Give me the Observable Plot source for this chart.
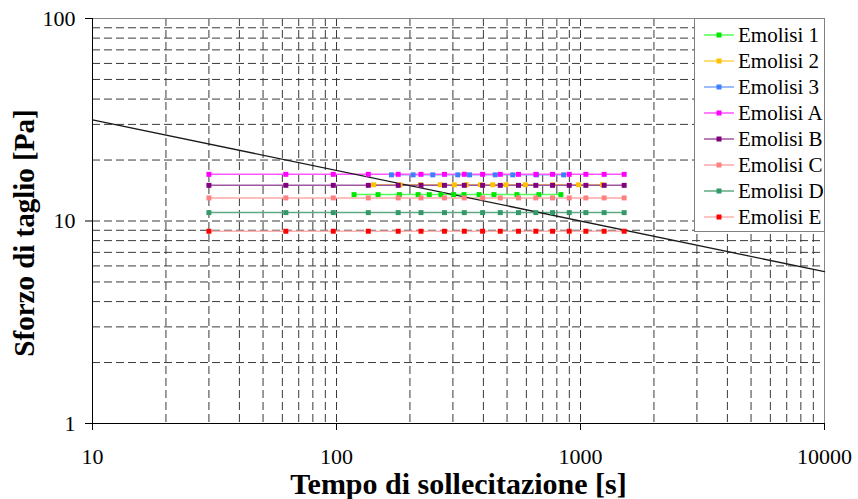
<!DOCTYPE html>
<html><head><meta charset="utf-8">
<script src="https://cdn.jsdelivr.net/npm/d3@7"></script>
<script src="https://cdn.jsdelivr.net/npm/@observablehq/plot@0.6"></script>
<style>body{margin:0;background:#fff} svg{display:block}</style>
</head><body><div id="chart"></div>
<script>
// ---- data ----
const seriesNames = ["Emolisi 1","Emolisi 2","Emolisi 3","Emolisi A","Emolisi B","Emolisi C","Emolisi D","Emolisi E"];
const markerColors = ["#00e600","#ffc000","#3f7fff","#ff00ff","#800080","#ff8080","#339966","#ff0000"];
const lineColors   = ["#55ff55","#ffd24d","#7aa6ff","#ff55ff","#a055a0","#ffa8a8","#5faa85","#ffb0b0"];
const timeABCDE = [30, 62, 97, 135, 179, 222, 277, 334, 397, 469, 557, 656, 768, 899, 1052, 1250, 1510];
const time1 = [118, 148, 181, 216, 240, 268, 302, 333, 384, 442, 549, 675, 831];
const time2 = [142, 182, 221, 266, 304, 340, 389, 437, 495, 594, 770, 983, 1231];
const time3 = [168, 206, 248, 314, 351, 447, 528, 660, 853];
const seriesTimes = [time1, time2, time3, timeABCDE, timeABCDE, timeABCDE, timeABCDE, timeABCDE];
const seriesStress = [13.5, 15.1, 16.9, 17.0, 15.0, 13.0, 11.0, 8.9];
const fitTime = [10, 10000];
const fitStress = [31.6, 5.62];
const xTicks = [10, 100, 1000, 10000];
const yTicks = [1, 10, 100];
const xGrid = [20,30,40,50,60,70,80,90,100,200,300,400,500,600,700,800,900,1000,2000,3000,4000,5000,6000,7000,8000,9000];
const yGrid = [2,3,4,5,6,7,8,9,10,20,30,40,50,60,70,80,90];
const xTitle = "Tempo di sollecitazione [s]";
const yTitle = "Sforzo di taglio [Pa]";

// ---- table built from arrays ----
const points = [];
seriesNames.forEach((name, i) => {
  seriesTimes[i].forEach(t => points.push({series: name, t, s: seriesStress[i]}));
});
const fit = fitTime.map((t, i) => ({t, s: fitStress[i]}));

const FONT = "Liberation Serif, serif";

const chart = Plot.plot({
  width: 858, height: 499,
  marginLeft: 92, marginRight: 34, marginTop: 18, marginBottom: 76,
  style: {fontFamily: FONT, fontSize: "22px", background: "#fff", color: "#000", overflow: "visible"},
  x: {type: "log", domain: [10, 10000]},
  y: {type: "log", domain: [1, 100]},
  color: {domain: seriesNames, range: markerColors},
  marks: [
    Plot.ruleX(xGrid, {x: d => d, stroke: "#3a3a3a", strokeWidth: 1, strokeDasharray: "8,4"}),
    Plot.ruleY(yGrid, {y: d => d, stroke: "#3a3a3a", strokeWidth: 1, strokeDasharray: "8,4"}),
    Plot.ruleY([100], {y: d => d, stroke: "#888", strokeWidth: 1}),
    Plot.ruleX([10000], {x: d => d, stroke: "#888", strokeWidth: 1}),
    Plot.ruleX([10], {x: d => d, stroke: "#000", strokeWidth: 1}),
    Plot.ruleY([1], {y: d => d, stroke: "#000", strokeWidth: 1}),
    ...seriesNames.map((name, i) =>
      Plot.line(points.filter(p => p.series === name), {x: "t", y: "s", stroke: lineColors[i], strokeWidth: 1.5})),
    Plot.line(fit, {x: "t", y: "s", stroke: "#1a1a1a", strokeWidth: 1.3}),
    Plot.dot(points, {x: "t", y: "s", fill: "series", symbol: "square", r: 2.8}),
    Plot.axisX({ticks: xTicks, tickFormat: d => String(d), tickSize: 7, tickPadding: 18, label: null, fontSize: 22, fontFamily: FONT}),
    Plot.axisY({ticks: yTicks, tickFormat: d => String(d), tickSize: 7, tickPadding: 10, label: null, fontSize: 22, fontFamily: FONT}),
    Plot.text([xTitle], {text: d => d, frameAnchor: "bottom", textAnchor: "middle", lineAnchor: "middle", dy: 61, fontSize: 30, fontWeight: "bold", fontFamily: FONT}),
    Plot.text([yTitle], {text: d => d, frameAnchor: "left", textAnchor: "middle", lineAnchor: "middle", rotate: -90, dx: -68, dy: 12, fontSize: 29, fontWeight: "bold", fontFamily: FONT})
  ]
});
document.getElementById("chart").appendChild(chart);

// ---- legend ----
const svg = d3.select(chart);
const lg = svg.append("g").attr("text-anchor", "start");
lg.append("rect").attr("x", 694.5).attr("y", 18.5).attr("width", 130).attr("height", 213)
  .attr("fill", "#fff").attr("stroke", "#808080").attr("stroke-width", 1);
seriesNames.forEach((name, i) => {
  const y = 35 + i * 26;
  lg.append("line").attr("x1", 704).attr("x2", 734).attr("y1", y).attr("y2", y)
    .attr("stroke", lineColors[i]).attr("stroke-width", 1.5);
  lg.append("rect").attr("x", 716.5).attr("y", y - 2.5).attr("width", 5).attr("height", 5).attr("fill", markerColors[i]);
  lg.append("text").attr("x", 738).attr("y", y).attr("dy", "0.35em")
    .attr("style", "font-family: 'Liberation Serif', serif; font-size: 21px; text-anchor: start")
    .attr("fill", "#000").text(name);
});
</script>
</body></html>
